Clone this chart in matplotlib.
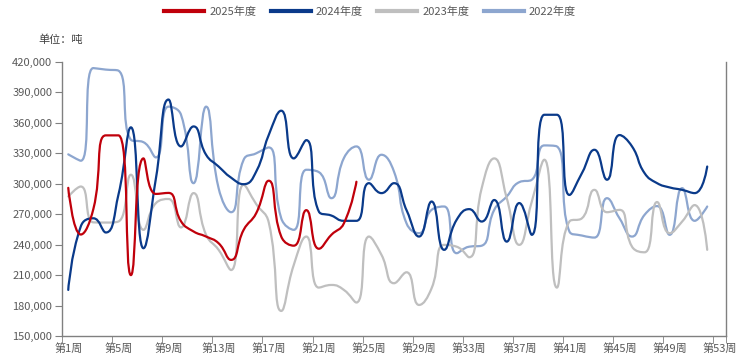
import numpy as np
import matplotlib
matplotlib.use("Agg")
import matplotlib.pyplot as plt
from matplotlib.path import Path
from matplotlib.patches import PathPatch
from matplotlib.lines import Line2D

plt.rcParams['font.family'] = ['Noto Sans CJK SC', 'DejaVu Sans']

# week categories
weeks = ["第{}周".format(i) for i in range(1, 54)]

# weekly values, tons
y2025 = [296000, 250000, 275000, 347700, 347700, 210000, 325000, 290000, 291000, 263000,
         253000, 248000, 241400, 225000, 254600, 271000, 303000, 248000, 239000, 274000,
         236000, 249700, 261000, 302000]
y2024 = [195400, 258000, 266000, 252000, 289000, 355600, 236500, 305600, 383000, 336800,
         356500, 328600, 317000, 306000, 299600, 312000, 348000, 372000, 325000, 343000,
         272700, 268700, 263500, 263500, 300600, 290800, 300600, 274000, 248000, 282500,
         234900, 264500, 275000, 262800, 284000, 243000, 281000, 249700, 368000, 368000,
         289000, 310500, 333500, 304000, 348000, 336800, 310500, 300600, 296400, 294000,
         290800, 317000]
y2023 = [287500, 297300, 262000, 261800, 262800, 308900, 254600, 281000, 285000, 257000,
         290800, 249700, 234900, 215000, 299000, 280000, 262000, 174700, 220000, 248000,
         197700, 200300, 195400, 183000, 248000, 230000, 202000, 212800, 180600, 197000,
         239800, 238000, 227600, 295700, 325000, 285800, 239800, 282500, 323700, 197700,
         262800, 266000, 294000, 272000, 274300, 238000, 232500, 282000, 251300, 262800,
         279000, 234900]
y2022 = [329000, 322700, 414000, 412500, 411500, 343400, 341000, 326000, 376000, 368000,
         300600, 376000, 295700, 272000, 323700, 330000, 335800, 266000, 254600, 313800,
         311500, 285800, 325300, 336800, 304000, 328600, 312000, 261000, 251300, 274300,
         277600, 231600, 238000, 239000, 274300, 287500, 301600, 304000, 337800, 336800,
         253000, 249000, 247000, 285800, 266000, 248000, 269400, 278000, 249700, 295700,
         263500, 277600]

series = [("2025年度", y2025, "#C0000B"),
          ("2024年度", y2024, "#0A3A8A"),
          ("2023年度", y2023, "#BFBFBF"),
          ("2022年度", y2022, "#8DA6CF")]


def smooth_path(ax, xs, ys, smooth=0.5):
    # bezier smoothing done in screen space, clamped so it never overshoots neighbours
    pts = ax.transData.transform(np.column_stack([xs, ys]))
    n = len(pts)
    verts = [pts[0]]
    codes = [Path.MOVETO]
    cp0 = pts[0]
    for i in range(1, n):
        x, y = pts[i]
        px, py = pts[i - 1]
        if i == n - 1:
            cp1 = (x, y)
            nxt = None
        else:
            nx, ny = pts[i + 1]
            vx, vy = nx - px, ny - py
            lp = np.hypot(x - px, y - py)
            ln = np.hypot(nx - x, ny - y)
            r = ln / (ln + lp)
            ncx = x + vx * smooth * r
            ncy = y + vy * smooth * r
            ncx = max(min(ncx, max(nx, x)), min(nx, x))
            ncy = max(min(ncy, max(ny, y)), min(ny, y))
            vx, vy = ncx - x, ncy - y
            c1x = x - vx * lp / ln
            c1y = y - vy * lp / ln
            c1x = max(min(c1x, max(px, x)), min(px, x))
            c1y = max(min(c1y, max(py, y)), min(py, y))
            vx, vy = x - c1x, y - c1y
            nxt = (x + vx * ln / lp, y + vy * ln / lp)
            cp1 = (c1x, c1y)
        verts += [cp0, cp1, (x, y)]
        codes += [Path.CURVE4] * 3
        cp0 = nxt
    verts = ax.transData.inverted().transform(np.array(verts, dtype=float))
    return Path(verts, codes)


fig = plt.figure(figsize=(7.5, 3.64), dpi=100)
ax = fig.add_axes([62 / 750, 1 - 336 / 364, 664 / 750, 274 / 364])
ax.set_xlim(0.5, 53.5)
ax.set_ylim(150000, 420000)

axis_col = "#808080"
text_col = "#595959"
for s in ["left", "bottom", "right"]:
    ax.spines[s].set_color(axis_col)
    ax.spines[s].set_linewidth(1)
ax.spines["top"].set_visible(False)

ax.set_yticks(np.arange(150000, 420001, 30000))
ax.set_yticklabels(["{:,}".format(v) for v in range(150000, 420001, 30000)])
ax.tick_params(axis="y", direction="out", length=5, color=axis_col,
               labelsize=8, labelcolor=text_col, pad=2)

pos = np.arange(1, 54)
ax.set_xticks(pos[::4])
ax.set_xticklabels(weeks[::4])
ax.set_xticks(list(np.arange(0.5, 53, 4)) + [53.5], minor=True)
ax.tick_params(axis="x", which="major", length=0, labelsize=8, labelcolor=text_col, pad=5)
ax.tick_params(axis="x", which="minor", direction="out", length=5, color=axis_col)

handles = []
for k, (name, vals, col) in reversed(list(enumerate(series))):
    xs = np.arange(1, len(vals) + 1)
    patch = PathPatch(smooth_path(ax, xs, vals), fill=False, edgecolor=col,
                      lw=1.6, zorder=10 - k, capstyle="round", joinstyle="round")
    ax.add_patch(patch)

for name, vals, col in series:
    handles.append(Line2D([], [], color=col, lw=3, label=name))

fig.legend(handles=handles, loc="center", bbox_to_anchor=(370 / 750, 1 - 12 / 364),
           ncol=4, frameon=False, fontsize=8, labelcolor=text_col,
           handlelength=3.6, handletextpad=0.45, columnspacing=1.3)

fig.text(38 / 750, 1 - 40 / 364, "单位：吨", fontsize=8, color="#404040", va="center")

fig.savefig("out.png", dpi=100)
